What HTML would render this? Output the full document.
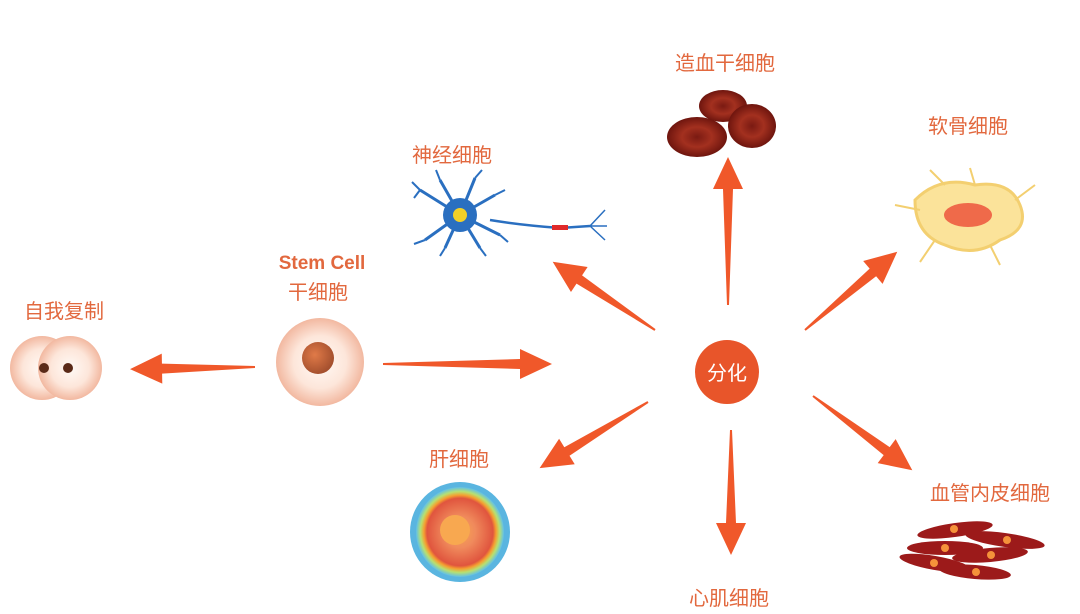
<!DOCTYPE html>
<html><head><meta charset="utf-8"><style>
body{margin:0;background:#fff;width:1080px;height:614px;overflow:hidden}
svg{display:block}
text{font-family:"Liberation Sans","Noto Sans CJK SC",sans-serif;fill:#e2683e}
</style></head><body>
<svg width="1080" height="614" viewBox="0 0 1080 614">
<defs>
<radialGradient id="cell" cx="50%" cy="50%" r="50%"><stop offset="0" stop-color="#fffaf6"/><stop offset="0.6" stop-color="#fde6da"/><stop offset="1" stop-color="#f2b8a0"/></radialGradient>
<radialGradient id="nuc" cx="40%" cy="40%" r="60%"><stop offset="0" stop-color="#e07a48"/><stop offset="1" stop-color="#a5502e"/></radialGradient>
<radialGradient id="rbc" cx="50%" cy="50%" r="50%"><stop offset="0" stop-color="#7a1a12"/><stop offset="0.5" stop-color="#a3301f"/><stop offset="1" stop-color="#6e150e"/></radialGradient>
<radialGradient id="liv" cx="50%" cy="50%" r="50%"><stop offset="0" stop-color="#f6a650"/><stop offset="0.35" stop-color="#f08a5c"/><stop offset="0.75" stop-color="#e0553e"/><stop offset="0.82" stop-color="#f5a030"/><stop offset="0.9" stop-color="#b8e070"/><stop offset="1" stop-color="#60c0e8"/></radialGradient>
</defs>
<g fill="#f0582a">
<polygon transform="translate(255,367) rotate(179)" points="0,-1 93,-5 93,-15 125,0 93,15 93,5 0,1"/>
<polygon transform="translate(383,364)" points="0,-1 137,-5 137,-15 169,0 137,15 137,5 0,1"/>
<polygon transform="translate(728,305) rotate(-90)" points="0,-1 116,-5 116,-15 148,0 116,15 116,5 0,1"/>
<polygon transform="translate(655,330) rotate(-146.3)" points="0,-1 91,-5 91,-15 123,0 91,15 91,5 0,1"/>
<polygon transform="translate(805,330) rotate(-40.3)" points="0,-1 89,-5 89,-15 121,0 89,15 89,5 0,1"/>
<polygon transform="translate(648,402) rotate(148.6)" points="0,-1 95,-5 95,-15 127,0 95,15 95,5 0,1"/>
<polygon transform="translate(731,430) rotate(90)" points="0,-1 93,-5 93,-15 125,0 93,15 93,5 0,1"/>
<polygon transform="translate(813,396) rotate(36.8)" points="0,-1 92,-5 92,-15 124,0 92,15 92,5 0,1"/>
</g>
<circle cx="727" cy="372" r="32" fill="#e8552a"/>
<text x="727" y="380" text-anchor="middle" font-size="20" style="fill:#fff">分化</text>

<circle cx="320" cy="362" r="44" fill="url(#cell)"/>
<circle cx="318" cy="358" r="16" fill="url(#nuc)"/>
<circle cx="42" cy="368" r="32" fill="url(#cell)"/>
<circle cx="70" cy="368" r="32" fill="url(#cell)"/>
<circle cx="44" cy="368" r="5" fill="#5a2a18"/><circle cx="68" cy="368" r="5" fill="#5a2a18"/>
<ellipse cx="697" cy="137" rx="30" ry="20" fill="url(#rbc)"/>
<ellipse cx="723" cy="106" rx="24" ry="16" fill="url(#rbc)"/>
<ellipse cx="752" cy="126" rx="24" ry="22" fill="url(#rbc)"/>
<g stroke="#2a6fc0" stroke-width="3" fill="none">
<path d="M460 215 L420 190 M460 215 L425 240 M460 215 L440 180 M460 215 L475 178 M460 215 L495 195 M460 215 L500 235 M460 215 L445 248 M460 215 L480 248"/>
<path d="M420 190 L412 182 M420 190 L414 198 M425 240 L414 244 M440 180 L436 170 M475 178 L482 170 M495 195 L505 190 M500 235 L508 242 M445 248 L440 256 M480 248 L486 256" stroke-width="2"/>
<path d="M490 220 Q520 225 560 228 L590 226" stroke-width="2.5"/>
<path d="M590 226 L605 210 M590 226 L605 240 M590 226 L607 226" stroke-width="1.5"/>
</g>
<circle cx="460" cy="215" r="17" fill="#2a6fc0"/>
<circle cx="460" cy="215" r="7" fill="#f2d028"/>
<rect x="552" y="225" width="16" height="5" fill="#e02a2a"/>
<path d="M915 200 Q940 175 975 185 Q1010 180 1020 205 Q1030 230 1000 240 Q975 258 945 245 Q915 235 915 200Z" fill="#fbe39a" stroke="#f3cf70" stroke-width="3"/>
<g stroke="#f3cf70" stroke-width="2" fill="none"><path d="M920 210 L895 205 M935 240 L920 262 M990 245 L1000 265 M1015 200 L1035 185 M975 185 L970 168 M945 185 L930 170"/></g>
<ellipse cx="968" cy="215" rx="24" ry="12" fill="#ef6a4a"/>
<ellipse cx="460" cy="532" rx="50" ry="50" fill="#5ab5e0"/>
<ellipse cx="460" cy="532" rx="44" ry="45" fill="url(#liv)"/>
<circle cx="455" cy="530" r="15" fill="#f8a850"/>
<g fill="#9c1a1a">
<ellipse cx="955" cy="530" rx="38" ry="7" transform="rotate(-8 955 530)"/>
<ellipse cx="1005" cy="540" rx="40" ry="7" transform="rotate(8 1005 540)"/>
<ellipse cx="945" cy="548" rx="38" ry="7"/>
<ellipse cx="990" cy="555" rx="38" ry="7" transform="rotate(-5 990 555)"/>
<ellipse cx="935" cy="563" rx="36" ry="7" transform="rotate(10 935 563)"/>
<ellipse cx="975" cy="572" rx="36" ry="7" transform="rotate(5 975 572)"/>
</g>
<g fill="#f5923a"><circle cx="954" cy="529" r="4"/><circle cx="1007" cy="540" r="4"/><circle cx="945" cy="548" r="4"/><circle cx="991" cy="555" r="4"/><circle cx="934" cy="563" r="4"/><circle cx="976" cy="572" r="4"/></g>

<g font-size="20">
<text x="725" y="70" text-anchor="middle">造血干细胞</text>
<text x="968" y="133" text-anchor="middle">软骨细胞</text>
<text x="452" y="162" text-anchor="middle">神经细胞</text>
<text x="322" y="269" text-anchor="middle" font-weight="bold" style="font-size:19px">Stem Cell</text>
<text x="318" y="299" text-anchor="middle">干细胞</text>
<text x="64" y="318" text-anchor="middle">自我复制</text>
<text x="459" y="466" text-anchor="middle">肝细胞</text>
<text x="729" y="605" text-anchor="middle">心肌细胞</text>
<text x="990" y="500" text-anchor="middle">血管内皮细胞</text>
</g>
</svg>
</body></html>
